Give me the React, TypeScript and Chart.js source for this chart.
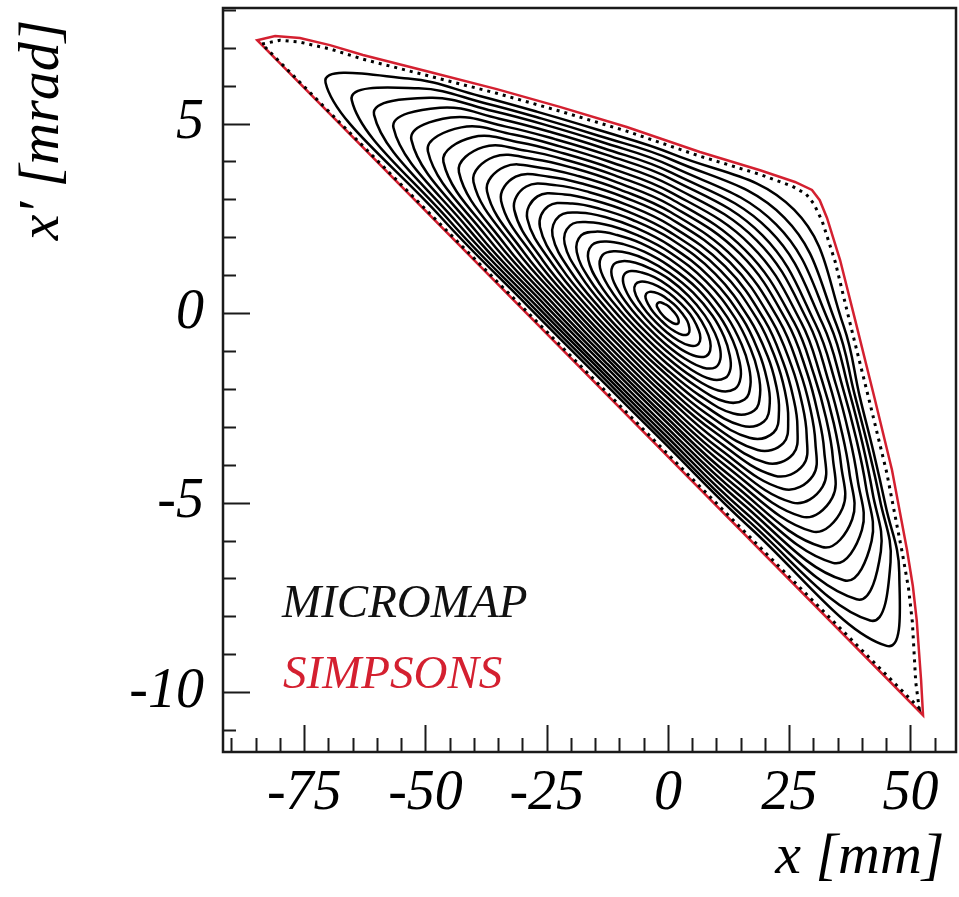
import React, { useEffect, useRef } from "react";
import { Chart, registerables } from "chart.js";
Chart.register(...registerables);

// ---------- axes ----------
const X_MIN = -91.75, X_MAX = 59.4, Y_MIN = -11.58, Y_MAX = 8.05;
const xMajor = [-75, -50, -25, 0, 25, 50];
const yMajor = [-10, -5, 0, 5];
const xMinor = [-90, -85, -80, -75, -70, -65, -60, -55, -50, -45, -40, -35, -30, -25, -20, -15, -10, -5, 0, 5, 10, 15, 20, 25, 30, 35, 40, 45, 50, 55];
const yMinor = [-11, -10, -9, -8, -7, -6, -5, -4, -3, -2, -1, 0, 1, 2, 3, 4, 5, 6, 7, 8];

// ---------- MICROMAP closed orbits, [x mm, x' mrad] ----------
const ringR01 = [[-2.3,0.19],[-2.2,0.25],[-1.9,0.28],[-1.4,0.28],[-0.7,0.24],[0.1,0.18],[0.8,0.09],[1.5,-0.01],[2.0,-0.11],[2.2,-0.19],[2.2,-0.25],[2.0,-0.28],[1.4,-0.28],[0.7,-0.24],[-0.1,-0.17],[-0.8,-0.09],[-1.5,0.01],[-2.0,0.11]];
const ringR02 = [[-4.6,0.39],[-4.5,0.51],[-3.8,0.56],[-2.8,0.55],[-1.4,0.48],[0.1,0.35],[1.7,0.18],[3.0,-0.02],[4.0,-0.21],[4.4,-0.38],[4.4,-0.50],[3.9,-0.57],[2.9,-0.57],[1.5,-0.49],[-0.1,-0.35],[-1.6,-0.17],[-3.0,0.02],[-4.0,0.22]];
const ringR03 = [[-6.9,0.59],[-6.7,0.76],[-5.7,0.83],[-4.1,0.81],[-2.1,0.71],[0.2,0.53],[2.5,0.27],[4.6,-0.03],[5.9,-0.32],[6.6,-0.56],[6.6,-0.74],[5.9,-0.85],[4.3,-0.85],[2.2,-0.73],[-0.2,-0.51],[-2.4,-0.25],[-4.4,0.03],[-6.0,0.32]];
const ringR04 = [[-9.2,0.79],[-9.0,1.02],[-7.6,1.11],[-5.4,1.07],[-2.8,0.95],[0.2,0.71],[3.4,0.36],[6.1,-0.05],[7.8,-0.42],[8.7,-0.74],[8.7,-0.99],[7.8,-1.14],[5.8,-1.14],[2.9,-0.97],[-0.2,-0.68],[-3.2,-0.33],[-5.8,0.04],[-8.0,0.43]];
const ringR05 = [[-11.6,0.99],[-11.2,1.28],[-9.4,1.37],[-6.7,1.33],[-3.5,1.17],[0.3,0.89],[4.3,0.45],[7.6,-0.06],[9.7,-0.53],[10.7,-0.91],[10.8,-1.22],[9.8,-1.43],[7.3,-1.44],[3.6,-1.21],[-0.3,-0.84],[-3.9,-0.41],[-7.2,0.05],[-10.0,0.54]];
const ringR06 = [[-14.0,1.19],[-13.5,1.53],[-11.2,1.63],[-8.0,1.58],[-4.2,1.40],[0.3,1.06],[5.2,0.54],[9.2,-0.07],[11.6,-0.63],[12.7,-1.09],[12.9,-1.46],[11.8,-1.71],[8.8,-1.74],[4.3,-1.45],[-0.3,-1.00],[-4.6,-0.49],[-8.6,0.06],[-12.0,0.65]];
const ringR07 = [[-16.4,1.40],[-15.7,1.79],[-12.9,1.89],[-9.2,1.82],[-4.9,1.62],[0.3,1.24],[6.1,0.64],[10.7,-0.09],[13.4,-0.73],[14.7,-1.25],[15.0,-1.69],[13.8,-2.00],[10.4,-2.04],[5.1,-1.69],[-0.4,-1.15],[-5.3,-0.56],[-9.9,0.07],[-14.0,0.75]];
const ringR08 = [[-18.8,1.61],[-17.9,2.05],[-14.6,2.15],[-10.5,2.06],[-5.5,1.84],[0.4,1.42],[7.0,0.73],[12.2,-0.10],[15.2,-0.83],[16.7,-1.42],[17.0,-1.91],[15.8,-2.28],[11.9,-2.34],[5.8,-1.93],[-0.4,-1.31],[-6.0,-0.63],[-11.2,0.08],[-16.0,0.86]];
const ringR09 = [[-21.3,1.83],[-20.2,2.31],[-16.4,2.40],[-11.6,2.30],[-6.2,2.05],[0.4,1.60],[7.9,0.83],[13.8,-0.12],[17.0,-0.93],[18.6,-1.58],[19.0,-2.14],[17.8,-2.57],[13.5,-2.65],[6.5,-2.17],[-0.5,-1.46],[-6.7,-0.71],[-12.5,0.09],[-17.9,0.97]];
const ringR10 = [[-23.8,2.04],[-22.4,2.56],[-18.0,2.65],[-12.8,2.53],[-6.8,2.26],[0.4,1.78],[8.8,0.93],[15.3,-0.13],[18.7,-1.02],[20.4,-1.74],[21.0,-2.36],[19.8,-2.86],[15.2,-2.97],[7.2,-2.41],[-0.5,-1.60],[-7.4,-0.77],[-13.8,0.10],[-19.9,1.07]];
const ringR11 = [[-26.4,2.27],[-24.7,2.82],[-19.7,2.89],[-14.0,2.75],[-7.5,2.47],[0.5,1.96],[9.8,1.03],[16.8,-0.15],[20.5,-1.12],[22.3,-1.90],[22.9,-2.57],[21.8,-3.15],[16.8,-3.29],[7.9,-2.65],[-0.6,-1.75],[-8.0,-0.84],[-15.0,0.11],[-21.9,1.18]];
const ringR12 = [[-29.0,2.49],[-26.9,3.08],[-21.3,3.13],[-15.1,2.97],[-8.1,2.67],[0.5,2.13],[10.8,1.13],[18.4,-0.16],[22.2,-1.21],[24.1,-2.05],[24.8,-2.79],[23.8,-3.43],[18.5,-3.61],[8.6,-2.89],[-0.6,-1.89],[-8.6,-0.91],[-16.2,0.11],[-23.8,1.29]];
const ringR13 = [[-31.7,2.73],[-29.2,3.34],[-22.9,3.37],[-16.2,3.19],[-8.7,2.87],[0.5,2.31],[11.8,1.23],[19.9,-0.18],[23.8,-1.31],[25.8,-2.20],[26.7,-3.00],[25.8,-3.72],[20.2,-3.95],[9.4,-3.12],[-0.7,-2.03],[-9.2,-0.97],[-17.4,0.12],[-25.8,1.39]];
const ringR14 = [[-34.4,2.96],[-31.4,3.60],[-24.5,3.60],[-17.2,3.40],[-9.3,3.07],[0.6,2.49],[12.8,1.34],[21.4,-0.19],[25.5,-1.40],[27.6,-2.35],[28.6,-3.21],[27.9,-4.01],[22.0,-4.29],[10.1,-3.36],[-0.7,-2.16],[-9.8,-1.04],[-18.6,0.13],[-27.7,1.50]];
const ringR15 = [[-37.3,3.21],[-33.7,3.86],[-26.0,3.83],[-18.3,3.61],[-9.9,3.26],[0.6,2.66],[13.8,1.44],[23.0,-0.21],[27.1,-1.49],[29.3,-2.49],[30.4,-3.41],[29.9,-4.29],[23.8,-4.64],[10.8,-3.60],[-0.8,-2.30],[-10.4,-1.10],[-19.7,0.14],[-29.7,1.60]];
const ringR16 = [[-40.1,3.46],[-35.9,4.12],[-27.5,4.06],[-19.3,3.82],[-10.5,3.45],[0.6,2.84],[14.9,1.56],[24.5,-0.22],[28.7,-1.58],[30.9,-2.64],[32.2,-3.61],[31.9,-4.58],[25.7,-5.00],[11.5,-3.83],[-0.8,-2.43],[-11.0,-1.16],[-20.8,0.15],[-31.6,1.71]];
const ringR17 = [[-43.1,3.72],[-38.1,4.38],[-29.0,4.28],[-20.4,4.02],[-11.1,3.64],[0.7,3.01],[15.9,1.67],[26.0,-0.24],[30.2,-1.66],[32.6,-2.77],[34.0,-3.81],[33.9,-4.87],[27.6,-5.37],[12.2,-4.06],[-0.9,-2.55],[-11.6,-1.22],[-21.9,0.15],[-33.6,1.81]];
const ringR18 = [[-46.3,3.99],[-40.3,4.64],[-30.5,4.50],[-21.4,4.21],[-11.7,3.82],[0.7,3.18],[17.1,1.79],[27.5,-0.25],[31.7,-1.75],[34.2,-2.91],[35.7,-4.00],[36.0,-5.15],[29.7,-5.76],[12.9,-4.30],[-0.9,-2.68],[-12.1,-1.27],[-23.0,0.16],[-35.5,1.92]];
const ringR19 = [[-49.5,4.27],[-42.6,4.90],[-31.9,4.71],[-22.3,4.40],[-12.2,4.00],[0.7,3.36],[18.3,1.92],[29.0,-0.26],[33.2,-1.83],[35.7,-3.05],[37.4,-4.19],[38.0,-5.44],[31.8,-6.17],[13.6,-4.53],[-0.9,-2.80],[-12.6,-1.33],[-24.1,0.17],[-37.4,2.02]];
const ringR20 = [[-52.9,4.57],[-44.8,5.16],[-33.4,4.92],[-23.3,4.59],[-12.8,4.18],[0.8,3.53],[19.5,2.05],[30.4,-0.28],[34.7,-1.91],[37.3,-3.18],[39.1,-4.38],[40.0,-5.72],[34.0,-6.59],[14.3,-4.76],[-1.0,-2.92],[-13.1,-1.38],[-25.1,0.18],[-39.3,2.12]];
const ringR21 = [[-56.6,4.89],[-47.0,5.42],[-34.8,5.13],[-24.2,4.78],[-13.3,4.35],[0.8,3.70],[20.9,2.19],[31.9,-0.29],[36.1,-1.99],[38.8,-3.30],[40.8,-4.56],[42.0,-6.01],[36.3,-7.05],[15.0,-4.99],[-1.0,-3.04],[-13.7,-1.44],[-26.1,0.18],[-41.2,2.23]];
const ringR22 = [[-60.6,5.23],[-49.2,5.68],[-36.1,5.33],[-25.1,4.96],[-13.8,4.52],[0.8,3.87],[22.3,2.34],[33.4,-0.30],[37.4,-2.07],[40.1,-3.43],[42.2,-4.74],[43.9,-6.29],[38.9,-7.55],[15.6,-5.22],[-1.1,-3.15],[-14.1,-1.49],[-27.1,0.19],[-43.1,2.33]];
const ringR23 = [[-65.2,5.62],[-51.4,5.93],[-37.5,5.53],[-26.0,5.13],[-14.3,4.68],[0.9,4.04],[24.0,2.52],[34.8,-0.32],[38.5,-2.15],[41.3,-3.55],[43.7,-4.92],[45.9,-6.57],[41.7,-8.11],[16.3,-5.45],[-1.1,-3.27],[-14.6,-1.54],[-28.1,0.20],[-45.0,2.43]];
const ringR24 = [[-70.6,6.08],[-53.6,6.19],[-38.8,5.73],[-26.9,5.31],[-14.8,4.85],[0.9,4.20],[26.0,2.73],[36.2,-0.33],[39.6,-2.23],[42.4,-3.67],[44.9,-5.09],[47.7,-6.85],[45.1,-8.78],[17.0,-5.67],[-1.1,-3.38],[-15.1,-1.59],[-29.0,0.20],[-46.8,2.53]];
const micromapRings = [ringR01, ringR02, ringR03, ringR04, ringR05, ringR06, ringR07, ringR08, ringR09, ringR10, ringR11, ringR12, ringR13, ringR14, ringR15, ringR16, ringR17, ringR18, ringR19, ringR20, ringR21, ringR22, ringR23, ringR24];

// outermost MICROMAP orbit (tracked points, drawn dotted)
const micromapOuter = [[-83.7,7.10],[-80.0,7.20],[-75.9,7.15],[-69.7,6.97],[-62.9,6.70],[-49.1,6.25],[-35.3,5.80],[-22.3,5.33],[-8.5,4.80],[6.6,4.14],[19.0,3.66],[25.6,3.35],[28.5,3.14],[30.1,2.88],[31.8,2.43],[34.5,1.35],[37.5,-0.24],[41.5,-2.30],[45.1,-4.20],[48.3,-6.31],[49.6,-7.25],[50.4,-8.15],[51.1,-9.74],[51.8,-10.42]];

// SIMPSONS separatrix
const simpsonsBoundary = [[-84.7,7.20],[-81.0,7.31],[-75.9,7.26],[-69.7,7.07],[-62.9,6.81],[-49.1,6.36],[-35.3,5.91],[-22.3,5.44],[-8.5,4.91],[6.6,4.25],[19.0,3.77],[26.2,3.46],[29.7,3.25],[31.3,2.98],[32.8,2.51],[35.5,1.40],[38.6,-0.18],[42.6,-2.24],[46.2,-4.14],[49.3,-6.25],[50.5,-7.20],[51.3,-8.10],[52.2,-9.68],[52.6,-10.61]];

const RED = "#d42030";

const toXY = (pts: number[][]) => pts.map(([x, y]) => ({ x, y }));

// close every orbit into a smooth loop
const loopPlugin = {
  id: "loopLines",
  afterDatasetsUpdate(chart: any) {
    chart.data.datasets.forEach((_ds: any, i: number) => {
      const line = chart.getDatasetMeta(i).dataset;
      if (line) { line._loop = true; line._fullLoop = true; line._pointsUpdated = false; delete line._segments; delete line._path; }
    });
  },
};

const decorPlugin = {
  id: "decor",
  afterDraw(chart: any) {
    const { ctx, chartArea: a, scales } = chart;
    const x = scales.x, y = scales.y;
    ctx.save();
    ctx.strokeStyle = "#1a1a1a";
    ctx.lineWidth = 2;
    ctx.beginPath();
    for (const v of xMinor) {
      const px = Math.round(x.getPixelForValue(v)) + 0.5;
      const len = xMajor.includes(v) ? 27 : 14;
      ctx.moveTo(px, a.bottom); ctx.lineTo(px, a.bottom - len);
    }
    for (const v of yMinor) {
      const py = Math.round(y.getPixelForValue(v)) + 0.5;
      const len = yMajor.includes(v) ? 27 : 13;
      ctx.moveTo(a.left, py); ctx.lineTo(a.left + len, py);
    }
    ctx.stroke();
    ctx.lineWidth = 2.5;
    ctx.strokeRect(a.left, a.top, a.right - a.left, a.bottom - a.top);
    ctx.font = "italic 47px 'Liberation Serif'";
    ctx.textAlign = "left"; ctx.textBaseline = "alphabetic";
    ctx.fillStyle = "#111";
    ctx.fillText("MICROMAP", 282, 617);
    ctx.fillStyle = RED;
    ctx.fillText("SIMPSONS", 283, 688);
    ctx.restore();
  },
};

export default function App() {
  const ref = useRef<HTMLCanvasElement | null>(null);
  useEffect(() => {
    const datasets: any[] = micromapRings.map((r) => ({
      data: toXY(r), borderColor: "#000", borderWidth: 2.5, pointRadius: 0, tension: 0.4, fill: false,
    }));
    datasets.push({ data: toXY(micromapOuter), borderColor: "#000", borderWidth: 3, borderDash: [3, 5], pointRadius: 0, tension: 0, fill: false });
    datasets.push({ data: toXY(simpsonsBoundary), borderColor: RED, borderWidth: 2.5, pointRadius: 0, tension: 0, fill: false });
    const font = { family: "'Liberation Serif', 'Times New Roman', serif", style: "italic" as const, size: 56 };
    const chart = new Chart(ref.current!, {
      type: "line",
      data: { datasets },
      options: {
        animation: false, responsive: true, maintainAspectRatio: false,
        layout: { padding: { top: 8, right: 3, left: 0, bottom: 0 } },
        plugins: { legend: { display: false }, tooltip: { enabled: false } },
        scales: {
          x: {
            type: "linear", min: X_MIN, max: X_MAX,
            afterBuildTicks: (s: any) => { s.ticks = xMajor.map((v) => ({ value: v })); },
            afterFit: (s: any) => { s.height = 145; s.paddingLeft = 0; s.paddingRight = 0; },
            grid: { display: false }, border: { display: false },
            ticks: { font, color: "#000", padding: 1, maxRotation: 0, autoSkip: false, callback: (v: any) => String(v) },
            title: { display: true, text: "x [mm]\u2009", align: "end", font: { ...font, size: 58 }, color: "#000", padding: { top: 0, bottom: 4 } },
          },
          y: {
            type: "linear", min: Y_MIN, max: Y_MAX,
            afterBuildTicks: (s: any) => { s.ticks = yMajor.map((v) => ({ value: v })); },
            afterFit: (s: any) => { s.width = 223; s.paddingTop = 0; s.paddingBottom = 0; },
            grid: { display: false }, border: { display: false },
            ticks: { font, color: "#000", padding: 11, autoSkip: false, callback: (v: any) => String(v) },
            title: { display: true, text: "x\u2032 [mrad]\u2009", align: "end", font: { ...font, size: 58 }, color: "#000", padding: { top: 8, bottom: 0 } },
          },
        },
      },
      plugins: [loopPlugin, decorPlugin],
    });
    return () => chart.destroy();
  }, []);
  return (
    <div style={{ position: "fixed", left: 0, top: 0, width: 959, height: 897, background: "#fff" }}>
      <canvas ref={ref} />
    </div>
  );
}
